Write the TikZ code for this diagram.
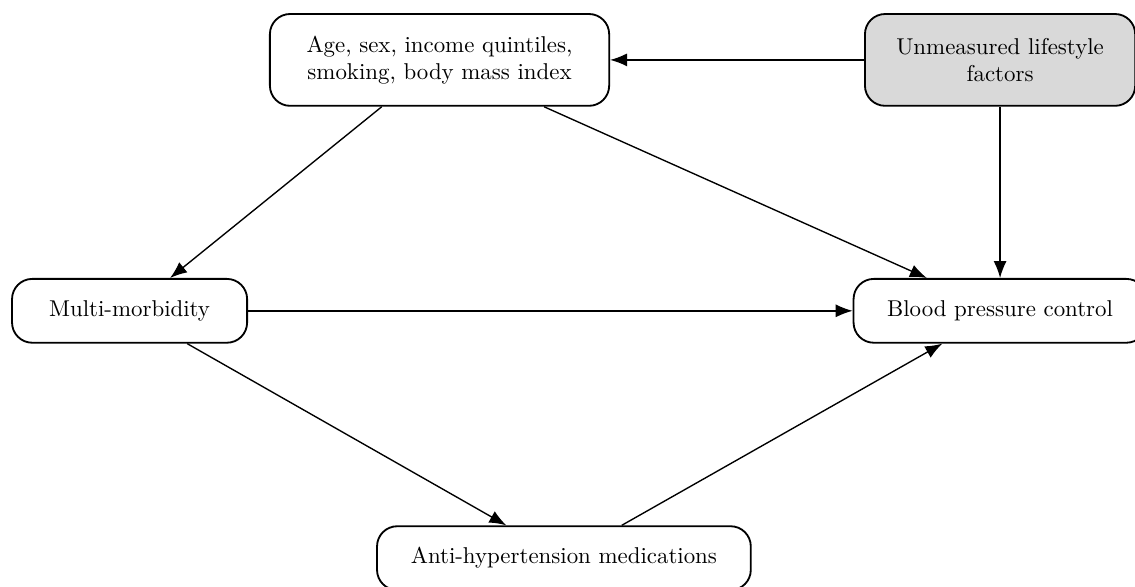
\documentclass[tikz,border=0pt]{standalone}
\usepackage{xcolor}
\usepackage{tikz}
\usetikzlibrary{positioning,arrows.meta}

\begin{document}
\begin{tikzpicture}[
  box/.style  ={draw, line width=0.8pt, rounded corners=3.1mm, align=center, inner sep=3pt, minimum height=9.8mm},
  tallbox/.style={box, minimum height=14.1mm},
  hidden/.style={tallbox, fill=gray!30},
  arr/.style  ={-{Latex[length=2.6mm, width=2mm]}, line width=0.6pt},
  node distance=26.3mm and 39mm
]
\useasboundingbox (-67.5mm,9.2mm) rectangle (106.8mm,-80.8mm);

% ---- top row: measured confounders, unmeasured factors ----
\node[tallbox, minimum width=52.1mm] (conf) {Age, sex, income quintiles,\\smoking, body mass index};
\node[hidden, right=of conf, minimum width=41.5mm] (unmeas) {Unmeasured lifestyle\\factors};

% ---- middle row: exposure, outcome ----
\node[box, below=of conf, xshift=-47.6mm, minimum width=36.1mm] (multi) {Multi-morbidity};
\node[box, below=of unmeas, minimum width=45mm] (bpc) {Blood pressure control};

% ---- bottom: mediator ----
\node[box, below=27.9mm of multi, xshift=66.7mm, minimum width=57.4mm] (meds) {Anti-hypertension medications};

\draw[arr] (unmeas) -- (conf);
\draw[arr] (unmeas) -- (bpc);
\draw[arr] (conf) -- (multi);
\draw[arr] (conf) -- (bpc);
\draw[arr] (multi) -- (bpc);
\draw[arr] (multi) -- (meds);
\draw[arr] (meds) -- (bpc);

\end{tikzpicture}
\end{document}
